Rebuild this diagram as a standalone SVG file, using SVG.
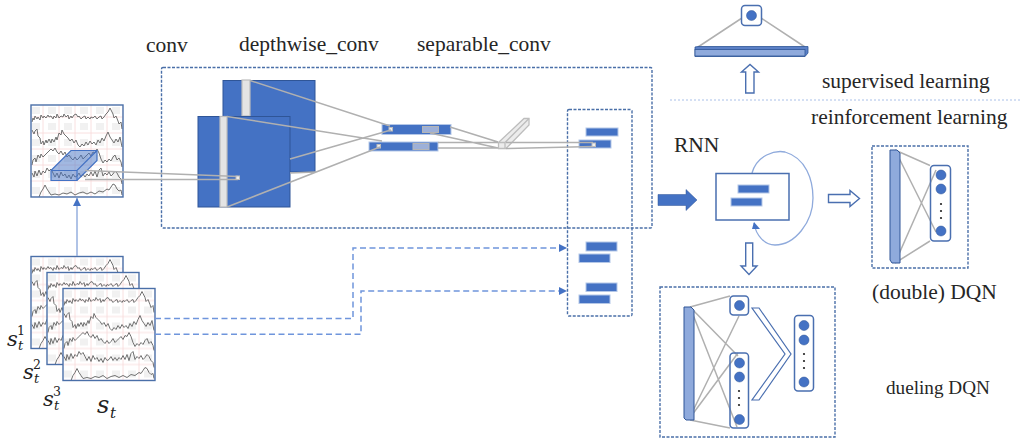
<svg xmlns="http://www.w3.org/2000/svg" xmlns:xlink="http://www.w3.org/1999/xlink" width="1021" height="438" viewBox="0 0 1021 438">
<style>
text{font-family:"Liberation Serif","Times New Roman",serif;font-size:21.5px;fill:#262626}
.m{font-family:"DejaVu Serif","Liberation Serif",serif;font-style:italic;font-size:21px;fill:#222}
.sm{font-family:"DejaVu Serif","Liberation Serif",serif;font-size:12.5px;fill:#222}
.smi{font-family:"DejaVu Serif","Liberation Serif",serif;font-style:italic;font-size:13px;fill:#222}
.dash{fill:none;stroke:#4a6fa8;stroke-width:1.4;stroke-dasharray:3 1.5}
.flow{fill:none;stroke:#6f95dc;stroke-width:1.5;stroke-dasharray:6 3.500}
.blk{fill:#4472c4;stroke:#2f5597;stroke-width:1}
.bar{fill:#4472c4;stroke:#b4c7e7;stroke-width:1}
.sl{fill:#e4e4e4;stroke:#bdbdbd;stroke-width:1.200}
.ln{fill:none;stroke:#b0b0b0;stroke-width:1.500}
.hi{fill:#9db0d8;stroke:#b5b5b5;stroke-width:1}
.dot{fill:#eee;stroke:#bbb;stroke-width:1}
.nb{fill:#fff;stroke:#4a6fb0;stroke-width:1.500}
.c{fill:#4472c4;stroke:#2f5597;stroke-width:.5}
.k{fill:#222}
.lb{fill:#8faadc;stroke:#2f5597;stroke-width:1}
.hol{fill:#fff;stroke:#4a6fb0;stroke-width:1.400}
.w{fill:none;stroke:#707070;stroke-width:1}
</style>
<defs>
<pattern id="grid" width="16" height="16" patternUnits="userSpaceOnUse">
<rect width="16" height="16" fill="#fff"/>
<rect x="1" y="2" width="8" height="7" fill="#f1f1f1"/>
<path d="M12 0V16M0 12H16" stroke="#f8d8d8" stroke-width=".8" fill="none"/>
</pattern>
<symbol id="eeg" width="92" height="92" viewBox="0 0 92 92" overflow="visible">
<rect x="0" y="0" width="92" height="92" fill="url(#grid)"/>
<polyline class="w" points="1,17 2,13 3,15 4,11 6,14 7,12 9,15 10,10 12,13 13,11 15,13 17,10 18,12 20,11 22,14 23,11 25,13 26,9 28,13 30,11 32,12 33,9 35,12 37,10 38,14 40,11 41,13 43,10 45,9 47,12 48,11 50,14 52,12 54,11 55,14 57,12 59,14 60,12 62,13 64,11 66,14 68,12 70,11 71,14 73,12 75,9 77,7 79,3 80,5 82,9 83,13 85,11 87,16 88,19 90,17 91,24"/>
<polyline class="w" points="1,25 3,29 4,26 6,24 7,31 9,33 10,39 12,36 13,40 15,35 16,38 18,34 20,38 21,34 23,37 25,32 26,35 28,28 30,30 31,25 33,29 35,31 37,33 39,36 41,34 43,38 45,35 47,40 49,42 51,39 53,41 55,37 57,40 59,36 61,39 63,37 65,40 67,35 69,38 71,33 73,36 75,31 77,27 79,32 81,35 83,38 85,34 87,37 89,32 91,42"/>
<polyline class="w" points="1,60 2,55 4,53 5,57 7,50 9,53 10,49 12,52 14,50 16,48 18,46 20,44 22,46 24,43 26,47 28,49 30,46 32,50 34,47 36,52 38,50 40,53 42,55 44,52 46,55 48,53 50,50 52,54 54,52 56,50 58,48 60,51 62,47 64,48 66,44 68,48 70,54 72,58 74,55 76,57 78,54 80,56 82,52 84,50 86,55 88,53 90,57 91,62"/>
<polyline class="w" points="1,68 3,72 4,66 6,71 8,65 10,70 12,66 14,68 16,63 18,66 20,64 22,68 24,72 26,68 28,73 30,67 32,71 34,69 36,73 38,70 40,74 42,69 44,72 46,71 48,68 50,72 52,69 54,72 56,69 58,71 60,67 62,71 64,66 66,72 68,65 70,63 72,71 74,68 76,70 78,67 80,71 82,69 84,66 86,68 88,72 90,74 91,79"/>
<polyline class="w" points="8,92 10,87 12,84 14,80 16,84 18,87 20,90 24,89 28,90 32,88 36,89 40,87 44,90 48,88 52,87 56,89 60,87 64,89 68,86 72,87 76,84 78,85 80,82 82,79 84,80 86,84 88,86 90,85 91,90"/>
<rect x="0" y="0" width="92" height="92" fill="none" stroke="#4a6fa8" stroke-width="1.400"/>
</symbol>
<marker id="a" markerWidth="9" markerHeight="9" refX="8" refY="4" orient="auto" markerUnits="userSpaceOnUse"><path d="M0 0L8 4L0 8Z" fill="#4472c4"/></marker>
</defs>

<g id="labels">
<text x="146" y="52">conv</text>
<text x="239" y="51">depthwise_conv</text>
<text x="417" y="51">separable_conv</text>
<text x="822" y="88">supervised learning</text>
<text x="811" y="124">reinforcement learning</text>
<text x="674" y="152">RNN</text>
<text x="872" y="299">(double) DQN</text>
<text x="886" y="394" style="font-size:19.2px">dueling DQN</text>
</g>

<g id="input-stack">
<use href="#eeg" x="31" y="256.500"/>
<use href="#eeg" x="47" y="272.500"/>
<use href="#eeg" x="63" y="288.500"/>
<text class="m" x="7" y="346">s</text><text class="smi" x="18" y="350">t</text><text class="sm" x="17" y="335">1</text>
<text class="m" x="23" y="379">s</text><text class="smi" x="34" y="383">t</text><text class="sm" x="33" y="369">2</text>
<text class="m" x="43" y="406">s</text><text class="smi" x="54" y="410">t</text><text class="sm" x="53" y="396">3</text>
<text class="m" x="97" y="413" style="font-size:24px">s</text><text class="smi" x="110" y="418" style="font-size:15px">t</text>
</g>

<g id="input-crop">
<use href="#eeg" x="31" y="105"/>
<path d="M51 170.500L71 150.500H97L97 160.500L77 180.500H51Z" fill="#4472c4" fill-opacity=".5" stroke="#4472c4" stroke-width="1.200"/>
<path d="M51 170.500H77L97 150.500M77 170.500V180.500" fill="none" stroke="#4472c4" stroke-width="1.200"/>
</g>

<g id="conv-box"><rect class="dash" x="161.500" y="67.500" width="490.500" height="160.500" rx="1.500"/></g>

<g id="feature-maps">
<rect class="blk" x="223" y="80.500" width="92" height="91.500"/>
<rect class="sl" x="242" y="80" width="8" height="36"/>
<rect class="blk" x="198" y="116.500" width="92" height="90.500"/>
<rect class="sl" x="220" y="116.500" width="7" height="90.500"/>
</g>

<g id="separable-bars">
<rect class="bar" x="382" y="124.500" width="69" height="10"/>
<rect class="hi" x="422.500" y="126.500" width="16" height="6"/>
<rect class="dot" x="389" y="127.500" width="3.500" height="3.500"/>
<rect class="bar" x="369" y="142" width="69" height="9"/>
<rect class="hi" x="413" y="143.500" width="16" height="6"/>
<rect class="dot" x="377" y="144.500" width="3.500" height="3.500"/>
</g>

<g id="prism">
<path d="M498.500 142.500L524 118.500H529V125L506 148.500H498.500Z" fill="#ececec" stroke="#bdbdbd" stroke-width="1.300"/>
<path d="M498.500 142.500H505L529 118.500M505 142.500V148.500" fill="none" stroke="#bdbdbd" stroke-width="1.300"/>
</g>

<g id="concat-box">
<rect class="dash" x="567.500" y="109.500" width="64.500" height="206.500" rx="1.500"/>
<rect class="bar" x="586" y="128" width="32" height="8"/>
<rect class="bar" x="579" y="140" width="32" height="8"/>
<rect class="bar" x="586" y="242" width="31" height="9"/>
<rect class="bar" x="579" y="254" width="31" height="8.500"/>
<rect class="bar" x="586" y="283" width="31" height="8.500"/>
<rect class="bar" x="579" y="295" width="31" height="8.500"/>
</g>

<g id="connectors">
<path d="M77 256V198" fill="none" stroke="#8faadc" stroke-width="1.400" marker-end="url(#a)"/>
<path class="ln" d="M85 170.500L238 176.500M85 179.500H238M250 80.500L390 126M227 116.500L382 141M227 207L380 147M290 159L391 130M290 173L315 172M450 127L498 142M430 133L498 148M438 142.500H498M438 148H498M506 142.500H593M506 148.500L593 146.500"/>
<rect class="dot" x="236" y="176" width="3.500" height="3.500"/>
<rect class="dot" x="592" y="143" width="3.500" height="3.500"/>
<path class="flow" d="M155 318.500H353V248H567" marker-end="url(#a)"/>
<path class="flow" d="M155 334.300H361V291H567" marker-end="url(#a)"/>
<path d="M752 173C757 155 775 150 785 152C806 158 813 180 813 198C813 222 795 245 775 245C765 245 756 236 754 223" fill="none" stroke="#8faadc" stroke-width="1.300"/>
<path d="M754 222L760 229L752 229Z" fill="#4472c4"/>
<path class="ln" d="M698 47L742 18M805 47L761 18"/>
<path d="M670 100H1021" fill="none" stroke="#a9c0e8" stroke-width="1" stroke-dasharray="2 2"/>
</g>

<g id="big-arrow"><path d="M658 194.500H686V189.500L697 200L686 210.500V205.500H658Z" fill="#4472c4" stroke="#2f5597" stroke-width=".5"/></g>

<g id="rnn">
<rect class="nb" x="716" y="173.500" width="73" height="46.500"/>
<rect class="bar" x="738" y="185" width="31" height="8"/>
<rect class="bar" x="731" y="198" width="31" height="8"/>
</g>

<g id="hollow-arrows">
<path class="hol" d="M745.700 93V72H741.500L750 64.500L758.500 72H754V93Z"/>
<path class="hol" d="M745.700 243V266H741L749 274.500L757 266H752.700V243Z"/>
<path class="hol" d="M828.500 194.500H850V190.500L859.500 198.500L850 206.500V202.500H828.500Z"/>
</g>

<g id="supervised-head">
<rect class="nb" x="741.500" y="5.500" width="20" height="20" rx="3.500"/>
<circle class="c" cx="751.500" cy="15.500" r="5"/>
<path d="M695 47L698 46.500H808V53L805 56.500H695Z" fill="#5b80c6" stroke="#2f5597" stroke-width=".8"/>
<rect class="lb" x="695" y="49.500" width="110" height="6.500" style="stroke-width:.8"/>
</g>

<g id="dqn">
<rect class="dash" x="872" y="146" width="96" height="122"/>
<path class="ln" d="M895 150L930 165.500M895 150L936 232M895 263L936 170M895 263L930 241"/>
<path class="lb" d="M890 150H897L900 153V263H892L890 260Z"/>
<rect class="nb" x="930.500" y="165.500" width="20" height="75.500" rx="3.500" fill-opacity="0"/>
<circle class="c" cx="941" cy="175" r="5"/><circle class="c" cx="941" cy="189" r="5"/><circle class="c" cx="941" cy="231" r="5"/>
<circle class="k" cx="941" cy="204" r="1.100"/><circle class="k" cx="941" cy="211" r="1.100"/><circle class="k" cx="941" cy="218" r="1.100"/>
</g>

<g id="dueling">
<rect class="dash" x="660" y="287" width="175" height="150"/>
<path class="ln" d="M690 307L730 296M690 307L738 356M690 307L737 427M689 419L739 316M689 419L738 353M690 420L730 428"/>
<path class="lb" d="M684 307H691L694 310V420H686L684 418Z"/>
<rect class="nb" x="730" y="296" width="18.500" height="19" rx="3.500" fill-opacity="0"/>
<circle class="c" cx="739.500" cy="305.500" r="5"/>
<rect class="nb" x="730" y="353" width="18.500" height="75" rx="3.500" fill-opacity="0"/>
<circle class="c" cx="739.500" cy="363" r="5"/><circle class="c" cx="739.500" cy="377" r="5"/><circle class="c" cx="739.500" cy="419.500" r="5"/>
<circle class="k" cx="739" cy="391" r="1.100"/><circle class="k" cx="739" cy="398" r="1.100"/><circle class="k" cx="739" cy="405" r="1.100"/>
<path d="M752 308H759L791 354L759 400H752L785 354Z" fill="#fff" stroke="#4a6fb0" stroke-width="1.200"/>
<rect class="nb" x="794.500" y="315.500" width="19" height="75.500" rx="3.500"/>
<circle class="c" cx="804" cy="325.500" r="5"/><circle class="c" cx="804" cy="340" r="5"/><circle class="c" cx="804" cy="382" r="5"/>
<circle class="k" cx="804" cy="354" r="1.100"/><circle class="k" cx="804" cy="361" r="1.100"/><circle class="k" cx="804" cy="368" r="1.100"/>
</g>
</svg>
